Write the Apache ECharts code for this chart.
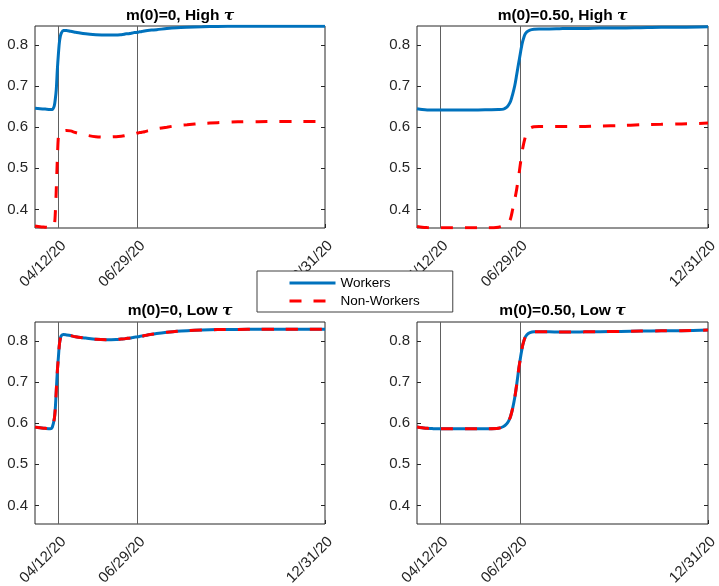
<!DOCTYPE html>
<html>
<head>
<meta charset="utf-8">
<script src="https://cdn.jsdelivr.net/npm/echarts@6/dist/echarts.min.js"></script>
<style>
html,body{margin:0;padding:0;background:#fff;}
#chart{width:719px;height:586px;}
</style>
</head>
<body>
<div id="chart"></div>
<script>
// ---------------- data ----------------
const dates = ['2020-03-20','2020-03-25','2020-03-30','2020-04-04','2020-04-06','2020-04-08','2020-04-09','2020-04-10','2020-04-11','2020-04-12','2020-04-13','2020-04-14','2020-04-15','2020-04-17','2020-04-20','2020-04-24','2020-04-29','2020-05-09','2020-05-19','2020-05-29','2020-06-08','2020-06-13','2020-06-16','2020-06-18','2020-06-20','2020-06-22','2020-06-24','2020-06-26','2020-06-28','2020-06-29','2020-06-30','2020-07-01','2020-07-02','2020-07-04','2020-07-06','2020-07-09','2020-07-13','2020-07-18','2020-07-28','2020-08-07','2020-08-17','2020-09-01','2020-09-16','2020-10-06','2020-10-26','2020-11-15','2020-12-05','2020-12-31'];

// m(0)=0, High tau
const highM0Workers = [0.646,0.645,0.644,0.643,0.643,0.652,0.668,0.692,0.739,0.775,0.805,0.821,0.829,0.835,0.835,0.833,0.831,0.827,0.825,0.824,0.824,0.825,0.826,0.827,0.827,0.828,0.829,0.830,0.830,0.831,0.831,0.832,0.832,0.833,0.834,0.835,0.836,0.837,0.840,0.842,0.843,0.844,0.845,0.8455,0.8455,0.8455,0.8455,0.8455];
const highM0NonWorkers = [0.360,0.358,0.357,0.356,0.3555,0.362,0.390,0.450,0.520,0.575,0.586,0.589,0.590,0.591,0.592,0.591,0.587,0.581,0.577,0.576,0.577,0.578,0.579,0.580,0.581,0.582,0.583,0.584,0.585,0.586,0.586,0.587,0.587,0.588,0.589,0.591,0.593,0.596,0.600,0.604,0.606,0.609,0.611,0.613,0.6135,0.614,0.614,0.614];

// m(0)=0.50, High tau
const highM50Workers = [0.645,0.643,0.642,0.642,0.642,0.642,0.642,0.642,0.642,0.642,0.642,0.642,0.642,0.642,0.642,0.642,0.642,0.642,0.642,0.6425,0.643,0.644,0.648,0.654,0.663,0.680,0.700,0.728,0.757,0.771,0.786,0.799,0.810,0.825,0.832,0.836,0.838,0.839,0.839,0.8395,0.840,0.840,0.841,0.841,0.842,0.843,0.843,0.844];
const highM50NonWorkers = [0.359,0.357,0.356,0.3555,0.3555,0.3555,0.3555,0.3555,0.3555,0.3555,0.3555,0.3555,0.3555,0.3555,0.3555,0.3555,0.3555,0.3555,0.3555,0.3555,0.357,0.360,0.362,0.367,0.378,0.400,0.423,0.450,0.482,0.500,0.518,0.535,0.550,0.572,0.587,0.597,0.601,0.6015,0.6015,0.6015,0.6015,0.602,0.603,0.604,0.606,0.607,0.608,0.610];

// m(0)=0, Low tau
const lowM0Workers = [0.5905,0.589,0.5875,0.5865,0.590,0.610,0.635,0.680,0.725,0.758,0.790,0.806,0.813,0.8155,0.8146,0.813,0.810,0.807,0.804,0.803,0.8035,0.8045,0.805,0.806,0.8065,0.807,0.808,0.809,0.8095,0.810,0.810,0.811,0.8115,0.812,0.813,0.8145,0.816,0.818,0.821,0.8235,0.825,0.8265,0.8275,0.828,0.8283,0.8284,0.8284,0.8284];
const lowM0NonWorkers = [0.5905,0.589,0.5875,0.5865,0.590,0.610,0.635,0.680,0.725,0.758,0.790,0.806,0.813,0.8155,0.8146,0.813,0.810,0.807,0.804,0.803,0.8035,0.8045,0.805,0.806,0.8065,0.807,0.808,0.809,0.8095,0.810,0.810,0.811,0.8115,0.812,0.813,0.8145,0.816,0.818,0.821,0.8235,0.825,0.8265,0.8275,0.828,0.8283,0.8284,0.8284,0.8284];

// m(0)=0.50, Low tau
const lowM50Workers = [0.5905,0.589,0.5875,0.587,0.5865,0.5865,0.5865,0.5865,0.5865,0.5865,0.5865,0.5865,0.5865,0.5865,0.5865,0.5865,0.5865,0.5865,0.5865,0.5865,0.5875,0.592,0.598,0.605,0.617,0.636,0.661,0.694,0.732,0.748,0.764,0.778,0.791,0.807,0.815,0.820,0.822,0.822,0.822,0.8215,0.8215,0.822,0.8225,0.823,0.824,0.8245,0.825,0.8265];
const lowM50NonWorkers = [0.5905,0.589,0.5875,0.587,0.5865,0.5865,0.5865,0.5865,0.5865,0.5865,0.5865,0.5865,0.5865,0.5865,0.5865,0.5865,0.5865,0.5865,0.5865,0.5865,0.5875,0.592,0.598,0.605,0.617,0.636,0.661,0.694,0.732,0.748,0.764,0.778,0.791,0.807,0.815,0.820,0.822,0.822,0.822,0.8215,0.8215,0.822,0.8225,0.823,0.824,0.8245,0.825,0.8265];

const seriesNames = ['Workers', 'Non-Workers'];
const panelTitles = ['m(0)=0, High ', 'm(0)=0.50, High ', 'm(0)=0, Low ', 'm(0)=0.50, Low '];
const yTicks = [0.4, 0.5, 0.6, 0.7, 0.8];
const xTickDates = ['2020-04-12', '2020-06-29', '2020-12-31'];
const xTickLabels = ['04/12/20', '06/29/20', '12/31/20'];
const vlineDates = ['2020-04-12', '2020-06-29'];
const xRange = ['2020-03-20', '2020-12-31'];
const yRange = [0.355, 0.846];

const panelData = [
  [highM0Workers, highM0NonWorkers],
  [highM50Workers, highM50NonWorkers],
  [lowM0Workers, lowM0NonWorkers],
  [lowM50Workers, lowM50NonWorkers]
];

// ---------------- layout ----------------
function ts(s) { const p = s.split('-').map(Number); return Date.UTC(p[0], p[1] - 1, p[2]); }
const xTickValues = xTickDates.map(ts);
const grids = [
  {left: 35, top: 26, width: 290, height: 202},
  {left: 417, top: 26, width: 291, height: 202},
  {left: 35, top: 322, width: 290, height: 202},
  {left: 417, top: 322, width: 291, height: 202}
];
const FONT = 'Liberation Sans';
const AX = '#262626';
const colors = ['#0072BD', '#FF0000'];

const option = {
  animation: false,
  backgroundColor: '#fff',
  grid: grids.map(g => Object.assign({show: true, borderColor: AX, borderWidth: 1, backgroundColor: 'transparent', outerBoundsMode: 'none', containLabel: false}, g)),
  xAxis: grids.map((g, i) => ({
    type: 'value', gridIndex: i,
    min: ts(xRange[0]), max: ts(xRange[1]),
    axisLine: {show: false},
    splitLine: {show: false},
    axisTick: {show: true, inside: true, length: 4, lineStyle: {color: AX}, customValues: xTickValues},
    axisLabel: {
      customValues: xTickValues,
      rotate: 45, margin: 10, verticalAlign: 'top',
      fontSize: 15, fontFamily: FONT, color: AX,
      formatter: v => { const k = xTickValues.indexOf(v); return k >= 0 ? xTickLabels[k] : ''; }
    }
  })),
  yAxis: grids.map((g, i) => ({
    type: 'value', gridIndex: i, min: yRange[0], max: yRange[1],
    axisLine: {show: false}, splitLine: {show: false},
    axisTick: {show: true, inside: true, length: 4, lineStyle: {color: AX}, customValues: yTicks},
    axisLabel: {customValues: yTicks, margin: 7, fontSize: 15, fontFamily: FONT, color: AX, formatter: v => v.toFixed(1)}
  })).concat(grids.map((g, i) => ({
    type: 'value', gridIndex: i, min: yRange[0], max: yRange[1], position: 'right',
    axisLine: {show: false}, splitLine: {show: false},
    axisTick: {show: true, inside: true, length: 4, lineStyle: {color: AX}, customValues: yTicks},
    axisLabel: {show: false}
  }))),
  legend: {
    data: seriesNames,
    orient: 'vertical',
    left: 257, top: 271,
    backgroundColor: '#fff', borderColor: '#404040', borderWidth: 1,
    padding: [5, 33, 4, 31], itemGap: 4, itemWidth: 46, itemHeight: 14,
    itemStyle: {opacity: 0, borderWidth: 0},
    lineStyle: {width: 3},
    textStyle: {fontSize: 13.5, fontFamily: FONT, color: '#000'},
    z: 10
  },
  graphic: grids.map((g, i) => ({
    type: 'text', z: 10,
    x: g.left + g.width / 2, y: i < 2 ? 16 : 311,
    style: {
      text: panelTitles[i] + '{t|τ}',
      fontSize: 15.5, fontWeight: 'bold', fontFamily: FONT, fill: '#000',
      align: 'center', verticalAlign: 'middle',
      rich: {t: {fontFamily: 'DejaVu Serif', fontStyle: 'italic', fontWeight: 'bold', fontSize: 15.5, fill: '#000'}}
    }
  })),
  series: []
};

panelData.forEach((pair, i) => {
  pair.forEach((vals, j) => {
    const s = {
      type: 'line', name: seriesNames[j], xAxisIndex: i, yAxisIndex: i,
      data: dates.map((d, k) => [ts(d), vals[k]]),
      symbol: 'none', showSymbol: false, smooth: 0.3,
      z: 3 + j,
      itemStyle: {color: colors[j]},
      lineStyle: {color: colors[j], width: 3, type: j === 0 ? 'solid' : [12, 12]},
      silent: true
    };
    if (j === 0) {
      s.markLine = {
        symbol: 'none', silent: true, animation: false, z: 1,
        label: {show: false},
        lineStyle: {color: '#606060', width: 1, type: 'solid'},
        data: vlineDates.map(d => ({xAxis: ts(d)}))
      };
    }
    option.series.push(s);
  });
});

const chart = echarts.init(document.getElementById('chart'), null, {renderer: 'canvas'});
chart.setOption(option);
</script>
</body>
</html>
